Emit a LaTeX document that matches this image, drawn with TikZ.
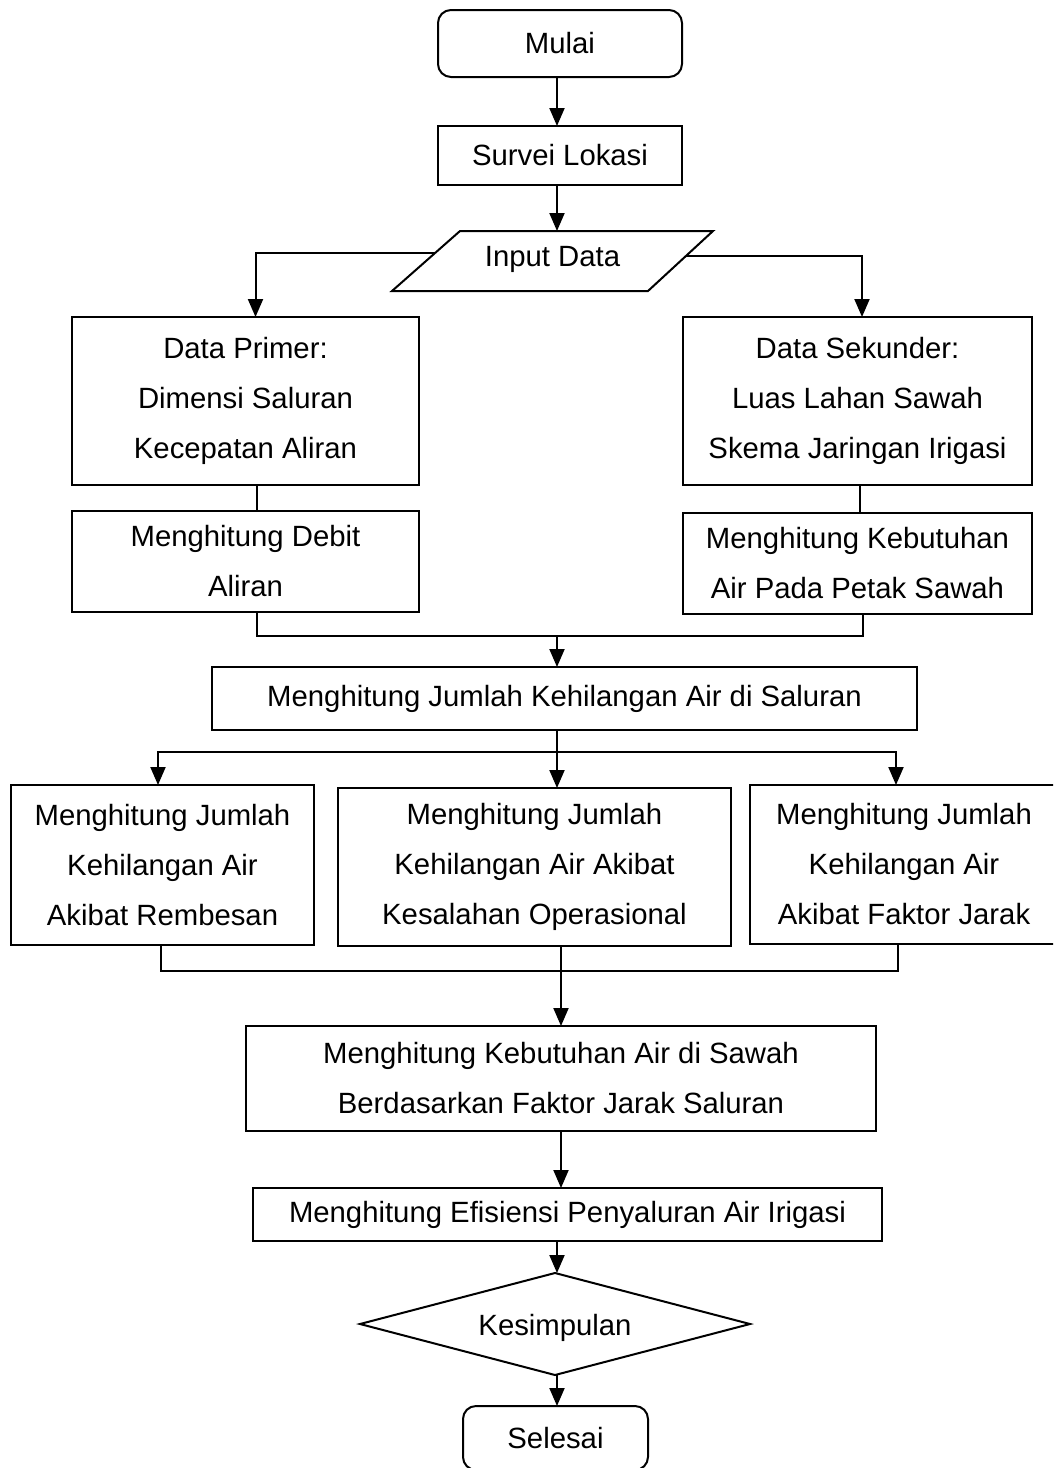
\documentclass[tikz,border=0pt]{standalone}
\usepackage{fontspec}
\setmainfont{Liberation Sans}
\usetikzlibrary{arrows.meta,shapes.geometric,calc}
\begin{document}
\begin{tikzpicture}[x=1pt,y=-1pt,
  every node/.style={font=\fontsize{29.3}{50}\selectfont, inner sep=0pt, outer sep=0pt},
  box/.style={draw, line width=2pt, rectangle, align=center},
  term/.style={box, rounded corners=13pt},
  dec/.style={draw, line width=2pt, diamond, aspect=3.8, minimum width=390pt, minimum height=102pt},
  conn/.style={line width=2pt},
  arr/.style={conn, -{Triangle[length=18pt,width=15pt]}}]
\useasboundingbox (0,0) rectangle (1053,1468);
\clip (0,0) rectangle (1053,1468);
\fill[white] (0,0) rectangle (1053,1468);

\node[term, minimum width=244pt, minimum height=67pt] (mulai) at (560,43.5) {Mulai};
\node[box, minimum width=244pt, minimum height=59pt] (survei) at (560,155.5) {Survei Lokasi};
% Input Data parallelogram
\coordinate (pTL) at (460,231);
\coordinate (pTR) at (713,231);
\coordinate (pBR) at (648,291);
\coordinate (pBL) at (392,291);
\draw[line width=2pt, line join=miter] (pTL) -- (pTR) -- (pBR) -- (pBL) -- cycle;
\node (input) at (552.5,259) {Input Data};
\node[box, minimum width=347pt, minimum height=168pt] (primer) at (245.5,401) {Data Primer:\\Dimensi Saluran\\Kecepatan Aliran};
\node[box, minimum width=347pt, minimum height=101pt] (debit) at (245.5,561.5) {Menghitung Debit\\Aliran};
\node[box, minimum width=349pt, minimum height=168pt] (sekunder) at (857.5,401) {Data Sekunder:\\Luas Lahan Sawah\\Skema Jaringan Irigasi};
\node[box, minimum width=349pt, minimum height=101pt] (petak) at (857.5,563.5) {Menghitung Kebutuhan\\Air Pada Petak Sawah};
\node[box, minimum width=705pt, minimum height=63pt] (saluran) at (564.5,698.5) {Menghitung Jumlah Kehilangan Air di Saluran};
\node[box, minimum width=303pt, minimum height=160pt] (remb) at (162.5,865) {Menghitung Jumlah\\Kehilangan Air\\Akibat Rembesan};
\node[box, minimum width=393pt, minimum height=158pt] (oper) at (534.5,867) {Menghitung Jumlah\\Kehilangan Air Akibat\\Kesalahan Operasional};
\node[box, minimum width=308pt, minimum height=159pt] (jarak) at (904,864.5) {Menghitung Jumlah\\Kehilangan Air\\Akibat Faktor Jarak};
\node[box, minimum width=630pt, minimum height=105pt] (sawah) at (561,1078.5) {Menghitung Kebutuhan Air di Sawah\\Berdasarkan Faktor Jarak Saluran};
\node[box, minimum width=629pt, minimum height=53pt] (efis) at (567.5,1214.5) {Menghitung Efisiensi Penyaluran Air Irigasi};
\node[dec] (kes) at (555,1324) {};
\node (kestext) at (555,1328) {Kesimpulan};
\node[term, minimum width=185pt, minimum height=64pt] (selesai) at (555.5,1438) {Selesai};

% coordinates for connector joints
\coordinate (inL) at ($(pTL)!0.37!(pBL)$);
\coordinate (inR) at ($(pTR)!0.42!(pBR)$);
\coordinate (j1) at (557,636);
\coordinate (j2) at (557,752);
\coordinate (j3) at (561,971);

\draw[arr] (mulai.south -| j1) -- (j1 |- survei.north);
\draw[arr] (survei.south -| j1) -- (j1 |- pTL);
\draw[arr] (inL) -| ([xshift=10pt]primer.north);
\draw[arr] (inR) -| ([xshift=4.5pt]sekunder.north);
\draw[conn] ([xshift=11.5pt]primer.south) -- ([xshift=11.5pt]debit.north);
\draw[conn] ([xshift=2.5pt]sekunder.south) -- ([xshift=2.5pt]petak.north);
\draw[conn] ([xshift=11.5pt]debit.south) |- (j1) -| ([xshift=5.5pt]petak.south);
\draw[arr] (j1) -- (j1 |- saluran.north);
\draw[conn] (j2 |- saluran.south) -- (j2);
\draw[arr] (j2) -| ([xshift=-4.5pt]remb.north);
\draw[arr] (j2) -| ([xshift=-8pt]jarak.north);
\draw[arr] (j2) -- (j2 |- oper.north);
\draw[conn] ([xshift=-1.5pt]remb.south) |- (j3) -| ([xshift=-6pt]jarak.south);
\draw[conn] (j3 |- oper.south) -- (j3);
\draw[arr] (j3) -- (j3 |- sawah.north);
\draw[arr] (sawah.south -| j3) -- (j3 |- efis.north);
\draw[arr] (efis.south -| j1) -- (j1 |- kes.north);
\draw[arr] (kes.south -| j1) -- (j1 |- selesai.north);
\end{tikzpicture}
\end{document}
